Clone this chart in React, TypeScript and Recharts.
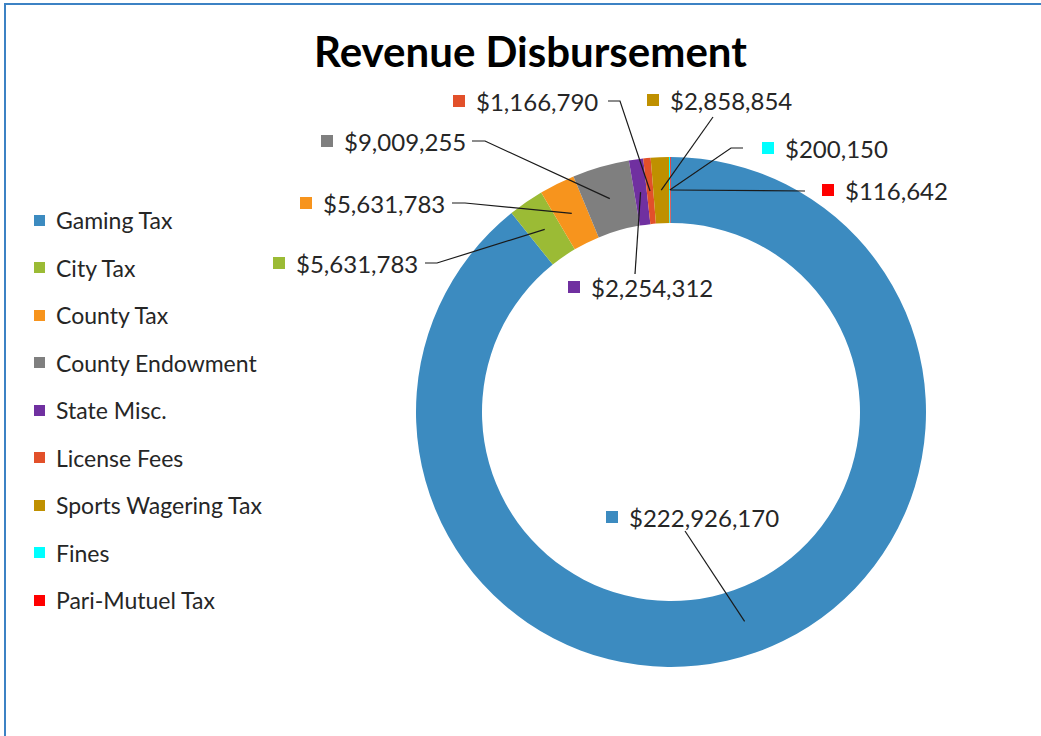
import { PieChart, Pie, Cell } from 'recharts';

const categories = [
  'Gaming Tax',
  'City Tax',
  'County Tax',
  'County Endowment',
  'State Misc.',
  'License Fees',
  'Sports Wagering Tax',
  'Fines',
  'Pari-Mutuel Tax',
];
const amounts = [222926170, 5631783, 5631783, 9009255, 2254312, 1166790, 2858854, 200150, 116642];
const colors = ['#3C8BC0', '#9BBB35', '#F7941D', '#7F7F7F', '#7030A0', '#E2502A', '#BF9000', '#00FFFF', '#FF0000'];

// where each data label sits, and where its leader line leaves it
const labelSpots = [
  { x: 606, y: 517, lx: 685, ly: 531, ex: 685, ey: 531 },
  { x: 273, y: 263, lx: 425, ly: 263, ex: 437, ey: 263 },
  { x: 300, y: 203, lx: 452, ly: 203, ex: 465, ey: 203 },
  { x: 321, y: 141, lx: 472, ly: 141, ex: 485, ey: 141 },
  { x: 568, y: 287, lx: 635, ly: 274, ex: 635, ey: 274 },
  { x: 453, y: 101, lx: 608, ly: 101, ex: 620, ey: 101 },
  { x: 647, y: 100, lx: 713, ly: 117, ex: 713, ey: 117 },
  { x: 762, y: 148, lx: 743, ly: 148, ex: 731, ey: 148 },
  { x: 822, y: 190, lx: 805, ly: 191, ex: 805, ey: 191 },
];

const data = categories.map((name, i) => ({ name, value: amounts[i] }));
const RAD = Math.PI / 180;
const font = 'Lato, "Open Sans", sans-serif';

const renderLabel = (props: any) => {
  const { cx, cy, midAngle, innerRadius, outerRadius, index, value } = props;
  const spot = labelSpots[index];
  const r = (innerRadius + outerRadius) / 2;
  const px = cx + r * Math.cos(-midAngle * RAD);
  const py = cy + r * Math.sin(-midAngle * RAD);
  return (
    <g key={`lbl-${index}`}>
      <polyline
        points={`${spot.lx},${spot.ly} ${spot.ex},${spot.ey} ${px},${py}`}
        fill="none"
        stroke="#1a1a1a"
        strokeWidth={1.2}
      />
      <rect x={spot.x} y={spot.y - 6} width={12} height={12} fill={colors[index]} />
      <text
        x={spot.x + 23}
        y={spot.y}
        dominantBaseline="central"
        fontFamily={font}
        fontSize={24}
        fill="#262626"
      >
        ${Number(value).toLocaleString('en-US')}
      </text>
    </g>
  );
};

export default function App() {
  return (
    <div style={{ position: 'relative', width: 1041, height: 736, background: '#fff', overflow: 'hidden' }}>
      <style>{`body{margin:0}`}</style>
      <div
        style={{
          position: 'absolute',
          left: 4,
          top: 3,
          width: 1100,
          height: 800,
          borderTop: '2px solid #3C82C4',
          borderLeft: '2px solid #3C82C4',
        }}
      />
      <div
        style={{
          position: 'absolute',
          left: 0,
          width: 1061,
          top: 26,
          textAlign: 'center',
          fontFamily: font,
          fontWeight: 700,
          fontSize: 42,
          color: '#000',
        }}
      >
        Revenue Disbursement
      </div>
      <div style={{ position: 'absolute', left: 34, top: 0 }}>
        {categories.map((name, i) => (
          <div
            key={name}
            style={{
              position: 'absolute',
              top: 220 + i * 47.5 - 14,
              left: 0,
              height: 28,
              display: 'flex',
              alignItems: 'center',
              whiteSpace: 'nowrap',
              fontFamily: font,
              fontSize: 23,
              color: '#262626',
            }}
          >
            <span style={{ width: 11, height: 11, background: colors[i], marginRight: 11, display: 'inline-block' }} />
            {name}
          </div>
        ))}
      </div>
      <div style={{ position: 'absolute', left: 0, top: 0 }}>
        <PieChart width={1041} height={736}>
          <Pie
            data={data}
            dataKey="value"
            nameKey="name"
            cx={666}
            cy={407}
            innerRadius={189}
            outerRadius={255}
            startAngle={90}
            endAngle={-270}
            stroke="none"
            label={renderLabel}
            labelLine={false}
            isAnimationActive={false}
          >
            {data.map((d, i) => (
              <Cell key={d.name} fill={colors[i]} />
            ))}
          </Pie>
        </PieChart>
      </div>
    </div>
  );
}
